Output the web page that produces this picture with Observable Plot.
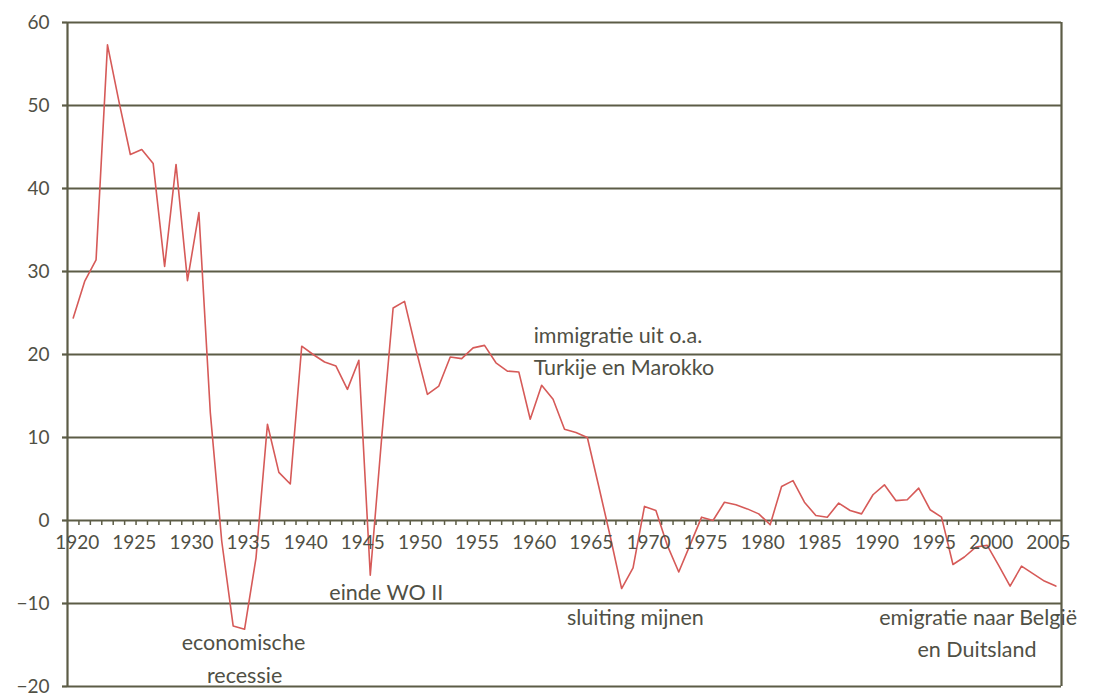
<!DOCTYPE html>
<html><head><meta charset="utf-8">
<script src="https://cdn.jsdelivr.net/npm/d3@7"></script>
<script src="https://cdn.jsdelivr.net/npm/@observablehq/plot@0.6"></script>
<style>html,body{margin:0;padding:0;background:#fff;} svg{display:block}</style>
</head><body><div id="chart"></div>
<script>
const years = d3.range(1920, 2007);
const values = [
  24.4, 28.8, 31.4, 57.3, 50.5, 44.1, 44.7, 43.0, 30.6, 42.9,
  28.9, 37.1, 13.0, -2.5, -12.7, -13.1, -4.5, 11.6, 5.8, 4.4,
  21.0, 20.0, 19.1, 18.6, 15.8, 19.3, -6.6, 10.0, 25.6, 26.4,
  20.6, 15.2, 16.2, 19.7, 19.5, 20.8, 21.1, 19.0, 18.0, 17.9,
  12.2, 16.3, 14.6, 11.0, 10.6, 10.0, 4.1, -1.9, -8.2, -5.7,
  1.7, 1.2, -3.0, -6.2, -2.9, 0.4, 0.0, 2.2, 1.9, 1.4,
  0.8, -0.5, 4.1, 4.8, 2.2, 0.6, 0.4, 2.1, 1.2, 0.8,
  3.1, 4.3, 2.4, 2.5, 3.9, 1.3, 0.4, -5.3, -4.4, -3.2,
  -3.0, -5.4, -7.9, -5.5, -6.4, -7.3, -7.9
];
const yTicks = [-20, -10, 0, 10, 20, 30, 40, 50, 60];
const xTickLabels = [1920, 1925, 1930, 1935, 1940, 1945, 1950, 1955, 1960, 1965, 1970, 1975, 1980, 1985, 1990, 1995, 2000, 2005];
const annotationTexts = ["immigratie uit o.a.", "Turkije en Marokko", "einde WO II", "sluiting mijnen", "economische", "recessie", "emigratie naar België", "en Duitsland"];
const annotationX = [1960.3, 1960.3, 1947.4, 1969.2, 1934.9, 1935.0, 1999.2, 1999.1];
const annotationY = [22.2, 18.4, -8.7, -11.7, -14.8, -18.8, -11.7, -15.6];
const annotationAnchor = ["start", "start", "middle", "middle", "middle", "middle", "middle", "middle"];

const data = years.map((year, i) => ({year, value: values[i]}));
const annotations = annotationTexts.map((text, i) => ({text, x: annotationX[i], y: annotationY[i], anchor: annotationAnchor[i]}));
const boundaries = years.slice(0, -1).map(y => y + 0.5);
const domainX = [years[0] - 0.5, years[years.length - 1] + 0.5];

const gridColor = "#5c5c46";
const textColor = "#505045";
const lineColor = "#d65a58";

const chart = Plot.plot({
  width: 1096,
  height: 700,
  marginLeft: 67,
  marginRight: 35,
  marginTop: 22,
  marginBottom: 14,
  x: {domain: domainX, axis: null},
  y: {domain: [-20, 60], axis: null},
  style: {fontFamily: "Lato, 'Open Sans', sans-serif", background: "#fff"},
  marks: [
    Plot.ruleY(yTicks, {stroke: gridColor, strokeWidth: 2.2}),
    Plot.ruleX(boundaries, {y1: 0, y2: -0.6, stroke: gridColor, strokeWidth: 1.5}),
    Plot.ruleX(domainX, {stroke: gridColor, strokeWidth: 2.2}),
    Plot.axisY(yTicks, {tickSize: 5, tickPadding: 13, fontSize: 19, stroke: gridColor, strokeWidth: 2.2, fill: textColor}),
    Plot.line(data, {x: "year", y: "value", stroke: lineColor, strokeWidth: 1.6}),
    Plot.text(xTickLabels, {x: d => d, y: 0, text: d => String(d), dy: 22, dx: 4, fontSize: 19, fill: textColor}),
    Plot.text(annotations.filter(d => d.anchor === "start"), {x: "x", y: "y", text: "text", textAnchor: "start", fontSize: 21.5, fill: textColor}),
    Plot.text(annotations.filter(d => d.anchor === "middle"), {x: "x", y: "y", text: "text", textAnchor: "middle", fontSize: 21.5, fill: textColor})
  ]
});
document.getElementById("chart").appendChild(chart);
</script>
</body></html>
